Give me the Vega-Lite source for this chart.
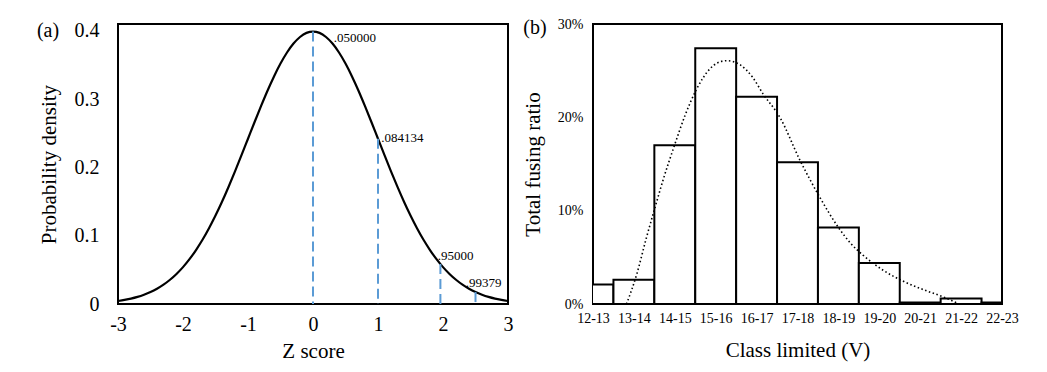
{
  "$schema": "https://vega.github.io/schema/vega-lite/v6.json",
  "padding": {"left": 35, "top": 16, "right": 5, "bottom": 5},
  "spacing": 7,
  "config": {
    "font": "Liberation Serif",
    "view": {"stroke": "black", "strokeWidth": 2},
    "axis": {"labelFont": "Liberation Serif", "titleFont": "Liberation Serif", "labelColor": "black", "titleColor": "black", "titleFontWeight": "normal", "grid": false, "domain": false, "ticks": false}
  },
  "datasets": {
    "curve": [
      {"z": -3.0, "pdf": 0.0044}, {"z": -2.9, "pdf": 0.0060}, {"z": -2.8, "pdf": 0.0079}, {"z": -2.7, "pdf": 0.0104}, {"z": -2.6, "pdf": 0.0136},
      {"z": -2.5, "pdf": 0.0175}, {"z": -2.4, "pdf": 0.0224}, {"z": -2.3, "pdf": 0.0283}, {"z": -2.2, "pdf": 0.0355}, {"z": -2.1, "pdf": 0.0440},
      {"z": -2.0, "pdf": 0.0540}, {"z": -1.9, "pdf": 0.0656}, {"z": -1.8, "pdf": 0.0790}, {"z": -1.7, "pdf": 0.0940}, {"z": -1.6, "pdf": 0.1109},
      {"z": -1.5, "pdf": 0.1295}, {"z": -1.4, "pdf": 0.1497}, {"z": -1.3, "pdf": 0.1714}, {"z": -1.2, "pdf": 0.1942}, {"z": -1.1, "pdf": 0.2179},
      {"z": -1.0, "pdf": 0.2420}, {"z": -0.9, "pdf": 0.2661}, {"z": -0.8, "pdf": 0.2897}, {"z": -0.7, "pdf": 0.3123}, {"z": -0.6, "pdf": 0.3332},
      {"z": -0.5, "pdf": 0.3521}, {"z": -0.4, "pdf": 0.3683}, {"z": -0.3, "pdf": 0.3814}, {"z": -0.2, "pdf": 0.3910}, {"z": -0.1, "pdf": 0.3970},
      {"z": 0.0, "pdf": 0.3989},
      {"z": 0.1, "pdf": 0.3970}, {"z": 0.2, "pdf": 0.3910}, {"z": 0.3, "pdf": 0.3814}, {"z": 0.4, "pdf": 0.3683}, {"z": 0.5, "pdf": 0.3521},
      {"z": 0.6, "pdf": 0.3332}, {"z": 0.7, "pdf": 0.3123}, {"z": 0.8, "pdf": 0.2897}, {"z": 0.9, "pdf": 0.2661}, {"z": 1.0, "pdf": 0.2420},
      {"z": 1.1, "pdf": 0.2179}, {"z": 1.2, "pdf": 0.1942}, {"z": 1.3, "pdf": 0.1714}, {"z": 1.4, "pdf": 0.1497}, {"z": 1.5, "pdf": 0.1295},
      {"z": 1.6, "pdf": 0.1109}, {"z": 1.7, "pdf": 0.0940}, {"z": 1.8, "pdf": 0.0790}, {"z": 1.9, "pdf": 0.0656}, {"z": 2.0, "pdf": 0.0540},
      {"z": 2.1, "pdf": 0.0440}, {"z": 2.2, "pdf": 0.0355}, {"z": 2.3, "pdf": 0.0283}, {"z": 2.4, "pdf": 0.0224}, {"z": 2.5, "pdf": 0.0175},
      {"z": 2.6, "pdf": 0.0136}, {"z": 2.7, "pdf": 0.0104}, {"z": 2.8, "pdf": 0.0079}, {"z": 2.9, "pdf": 0.0060}, {"z": 3.0, "pdf": 0.0044}
    ],
    "markers": [
      {"z": 0, "top": 0.3989, "label": ".050000", "lz": 0.32, "ly": 0.39},
      {"z": 1, "top": 0.242, "label": ".084134", "lz": 1.05, "ly": 0.243},
      {"z": 1.96, "top": 0.0584, "label": ".95000", "lz": 1.92, "ly": 0.071},
      {"z": 2.5, "top": 0.0175, "label": ".99379", "lz": 2.35, "ly": 0.031}
    ],
    "bars": [
      {"cls": "12-13", "lo": 12, "hi": 13, "ratio": 0.021},
      {"cls": "13-14", "lo": 13, "hi": 14, "ratio": 0.026},
      {"cls": "14-15", "lo": 14, "hi": 15, "ratio": 0.170},
      {"cls": "15-16", "lo": 15, "hi": 16, "ratio": 0.274},
      {"cls": "16-17", "lo": 16, "hi": 17, "ratio": 0.222},
      {"cls": "17-18", "lo": 17, "hi": 18, "ratio": 0.152},
      {"cls": "18-19", "lo": 18, "hi": 19, "ratio": 0.082},
      {"cls": "19-20", "lo": 19, "hi": 20, "ratio": 0.044},
      {"cls": "20-21", "lo": 20, "hi": 21, "ratio": 0.0015},
      {"cls": "21-22", "lo": 21, "hi": 22, "ratio": 0.006},
      {"cls": "22-23", "lo": 22, "hi": 23, "ratio": 0.0015}
    ],
    "fit": [
      {"v": 13.32, "f": 0}, {"v": 13.57, "f": 0.032}, {"v": 13.8, "f": 0.07}, {"v": 14.02, "f": 0.104}, {"v": 14.25, "f": 0.138},
      {"v": 14.5, "f": 0.171}, {"v": 14.75, "f": 0.202}, {"v": 15.03, "f": 0.230}, {"v": 15.36, "f": 0.252}, {"v": 15.55, "f": 0.2585},
      {"v": 15.77, "f": 0.2607}, {"v": 16.09, "f": 0.2565}, {"v": 16.4, "f": 0.243}, {"v": 16.66, "f": 0.225}, {"v": 17.07, "f": 0.200},
      {"v": 17.56, "f": 0.154}, {"v": 18.05, "f": 0.114}, {"v": 18.5, "f": 0.082}, {"v": 18.8, "f": 0.065}, {"v": 19.11, "f": 0.052},
      {"v": 19.6, "f": 0.036}, {"v": 20.09, "f": 0.0243}, {"v": 20.6, "f": 0.015}, {"v": 21.07, "f": 0.0075}, {"v": 21.45, "f": 0}
    ]
  },
  "hconcat": [
    {
      "width": 390,
      "height": 280,
      "layer": [
        {
          "data": {"name": "curve"},
          "mark": {"type": "line", "color": "black", "strokeWidth": 2.2, "interpolate": "monotone", "clip": true},
          "encoding": {
            "x": {"field": "z", "type": "quantitative", "scale": {"domain": [-3, 3], "nice": false},
                  "axis": {"values": [-3, -2, -1, 0, 1, 2, 3], "labelExpr": "datum.value < 0 ? '-' + abs(datum.value) : '' + datum.value", "labelFlush": false, "labelFontSize": 20, "titleFontSize": 21, "title": "Z score", "labelPadding": 10, "titlePadding": 6}},
            "y": {"field": "pdf", "type": "quantitative", "scale": {"domain": [0, 0.41], "nice": false},
                  "axis": {"values": [0, 0.1, 0.2, 0.3, 0.4], "labelExpr": "datum.value == 0 ? '0' : format(datum.value, '.1f')", "labelFontSize": 20, "titleFontSize": 21, "title": "Probability density", "labelPadding": 19, "titlePadding": 15}}
          }
        },
        {
          "data": {"name": "markers"},
          "mark": {"type": "rule", "color": "#5B9BD5", "strokeWidth": 2, "strokeDash": [10, 5]},
          "encoding": {
            "x": {"field": "z", "type": "quantitative"},
            "y": {"field": "top", "type": "quantitative"},
            "y2": {"datum": 0}
          }
        },
        {
          "data": {"name": "markers"},
          "mark": {"type": "text", "align": "left", "baseline": "middle", "fontSize": 13, "font": "Liberation Serif", "color": "black"},
          "encoding": {
            "x": {"field": "lz", "type": "quantitative"},
            "y": {"field": "ly", "type": "quantitative"},
            "text": {"field": "label"}
          }
        },
        {
          "data": {"values": [{"tag": "(a)"}]},
          "mark": {"type": "text", "align": "center", "baseline": "middle", "fontSize": 20, "font": "Liberation Serif", "color": "black", "dx": -70},
          "encoding": {
            "x": {"datum": -3},
            "y": {"datum": 0.4},
            "text": {"field": "tag"}
          }
        }
      ]
    },
    {
      "width": 409,
      "height": 280,
      "layer": [
        {
          "data": {"name": "bars"},
          "mark": {"type": "rect", "fill": "white", "stroke": "black", "strokeWidth": 2, "clip": true},
          "encoding": {
            "x": {"field": "lo", "type": "quantitative", "scale": {"domain": [12.5, 22.5], "nice": false, "zero": false},
                  "axis": {"values": [12.5, 13.5, 14.5, 15.5, 16.5, 17.5, 18.5, 19.5, 20.5, 21.5, 22.5], "labelExpr": "floor(datum.value) + '-' + (floor(datum.value) + 1)", "labelFontSize": 14, "labelFlush": false, "labelOverlap": false, "titleFontSize": 21, "title": "Class limited (V)", "labelPadding": 7, "titlePadding": 14}},
            "x2": {"field": "hi"},
            "y": {"field": "ratio", "type": "quantitative", "scale": {"domain": [0, 0.3], "nice": false},
                  "axis": {"values": [0, 0.1, 0.2, 0.3], "format": ".0%", "labelFontSize": 14, "titleFontSize": 21, "title": "Total fusing ratio", "labelPadding": 10, "titlePadding": 14}},
            "y2": {"datum": 0}
          }
        },
        {
          "data": {"name": "fit"},
          "mark": {"type": "line", "color": "black", "strokeWidth": 1.6, "strokeDash": [1.5, 2.5], "interpolate": "monotone"},
          "encoding": {
            "x": {"field": "v", "type": "quantitative"},
            "y": {"field": "f", "type": "quantitative"}
          }
        },
        {
          "data": {"values": [{"tag": "(b)"}]},
          "mark": {"type": "text", "align": "center", "baseline": "middle", "fontSize": 20, "font": "Liberation Serif", "color": "black", "dx": -58, "dy": 4},
          "encoding": {
            "x": {"datum": 12.5},
            "y": {"datum": 0.3},
            "text": {"field": "tag"}
          }
        }
      ]
    }
  ]
}
